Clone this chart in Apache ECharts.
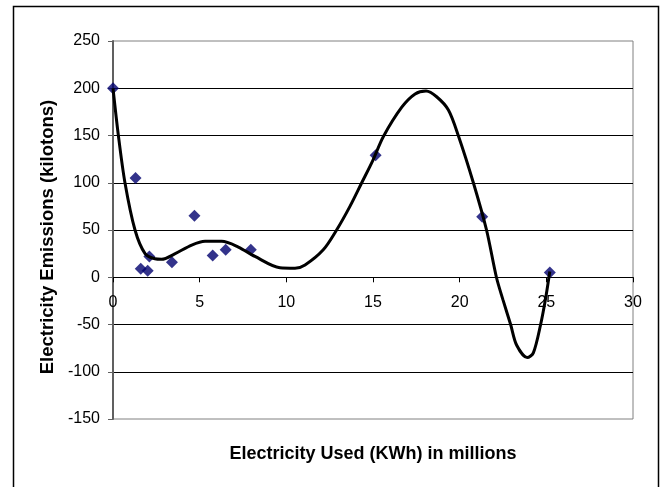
<!DOCTYPE html>
<html>
<head>
<meta charset="utf-8">
<script src="https://cdn.jsdelivr.net/npm/echarts@6/dist/echarts.min.js"></script>
<style>
  html, body { margin: 0; padding: 0; background: #fff; }
  #main { width: 665px; height: 487px; }
</style>
</head>
<body>
<div id="main"></div>
<script>
(function() {
    // 观测数据点
    var usedKwh = [0, 1.3, 1.6, 2.0, 2.1, 3.4, 4.7, 5.75, 6.5, 7.95, 15.15, 21.3, 25.2];
    var emissions = [200, 105, 9, 7, 22, 16, 65, 23, 29, 29, 129, 64, 5];

    // 趋势线
    var trendX = [0, 0.31, 0.69, 1.27, 1.85, 2.42, 2.8, 3.56, 4.54, 5.31, 6.27, 7.23, 8.19, 9.63, 10.5, 11.08,
                  12.13, 12.9, 13.67, 14.35, 15.0, 15.6, 16.66, 17.43, 18.06, 18.67, 19.35, 19.92, 20.79, 21.55,
                  22.12, 22.5, 22.94, 23.29, 23.9, 24.25, 24.67, 24.98, 25.2];
    var trendY = [200, 150, 100, 50, 25, 19.5, 19, 24.7, 34, 38, 38, 32, 22, 10, 9.5, 13,
                  29, 50, 75, 100, 124, 149, 180, 194, 197, 191, 177, 150, 100, 50,
                  0, -24, -50, -72, -85, -80, -50, -20, 6];

    var xTitle = 'Electricity Used (KWh) in millions';
    var yTitle = 'Electricity Emissions (kilotons)';

    var font = "'Liberation Sans', Arial, sans-serif";

    var points = usedKwh.map(function(x, i) { return [x, emissions[i]]; });
    var trend = trendX.map(function(x, i) { return [x, trendY[i]]; });

    var myChart = echarts.init(document.getElementById('main'));

    var option = {
        backgroundColor: '#fff',
        animation: false,
        grid: {
            left: 113, top: 41, right: 32, bottom: 68,
            show: true,
            borderColor: '#808080',
            borderWidth: 1
        },
        xAxis: {
            type: 'value',
            min: 0, max: 30, interval: 5,
            // 把x轴挪到 y=0 的位置
            offset: -141.7,
            axisLine: { onZero: false, lineStyle: { color: '#000', width: 1 } },
            axisTick: { show: true, length: 5, lineStyle: { color: '#000' } },
            axisLabel: { margin: 17, fontSize: 16, color: '#000', fontFamily: font },
            splitLine: { show: false }
        },
        yAxis: {
            type: 'value',
            min: -150, max: 250, interval: 50,
            axisLine: { show: true, lineStyle: { color: '#606060', width: 2 } },
            axisTick: { show: true, length: 5, lineStyle: { color: '#606060' } },
            axisLabel: { margin: 13, fontSize: 16, color: '#000', fontFamily: font },
            splitLine: { show: true, showMinLine: false, showMaxLine: false, lineStyle: { color: '#000', width: 1 } }
        },
        graphic: [
            {
                type: 'rect',
                shape: { x: 13.5, y: 6.5, width: 645, height: 520 },
                style: { fill: 'none', stroke: '#000', lineWidth: 1.5 },
                silent: true
            },
            {
                type: 'text',
                x: 373, y: 454,
                style: {
                    text: xTitle,
                    fontSize: 18, fontWeight: 'bold', fontFamily: font,
                    fill: '#000', textAlign: 'center', textVerticalAlign: 'middle'
                }
            },
            {
                type: 'text',
                x: 48, y: 237,
                rotation: Math.PI / 2,
                style: {
                    text: yTitle,
                    fontSize: 18.5, fontWeight: 'bold', fontFamily: font,
                    fill: '#000', textAlign: 'center', textVerticalAlign: 'middle'
                }
            }
        ],
        series: [
            {
                name: 'Data',
                type: 'scatter',
                data: points,
                symbol: 'diamond',
                symbolSize: 12,
                itemStyle: { color: '#00006e' },
                z: 2
            },
            {
                name: 'Trend',
                type: 'line',
                data: trend,
                smooth: 0.3,
                showSymbol: false,
                lineStyle: { color: '#000', width: 3 },
                z: 3
            }
        ]
    };

    myChart.setOption(option);
})();
</script>
</body>
</html>
